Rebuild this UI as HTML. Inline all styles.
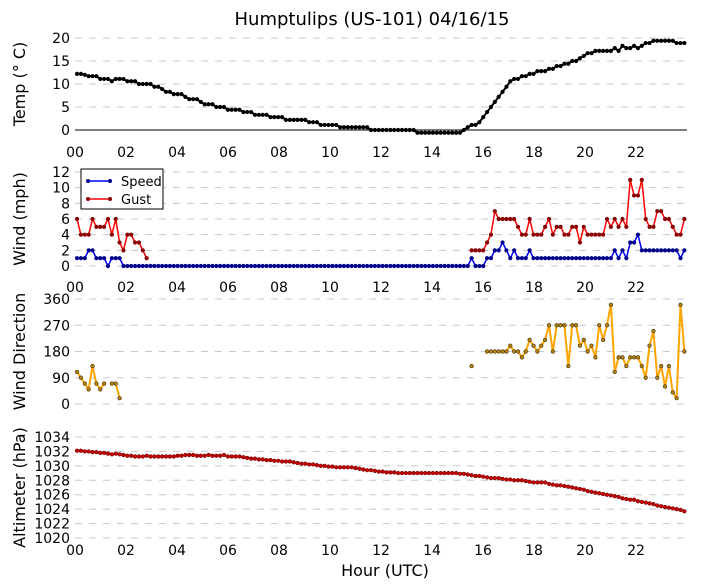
<!DOCTYPE html>
<html><head><meta charset="utf-8"><style>
body{margin:0;background:#fff}
svg{display:block;font-family:"DejaVu Sans","Liberation Sans",sans-serif}
</style></head><body>
<svg id="c" width="705" height="588" xmlns="http://www.w3.org/2000/svg"></svg>
<script>
const xTickLabels=["00","02","04","06","08","10","12","14","16","18","20","22"];
const tempTicks=[0,5,10,15,20];
const windTicks=[0,2,4,6,8,10,12];
const dirTicks=[0,90,180,270,360];
const altTicks=[1020,1022,1024,1026,1028,1030,1032,1034];
const tempValues=[12.2,12.2,12,11.7,11.7,11.7,11.1, 11.1,11.1,10.6,11.1,11.1,11.1, 10.6,10.6,10.6,10,10,10,10, 9.4,9.4,8.9,8.3,8.3,7.8, 7.8,7.8,7.2,6.7,6.7,6.7,6.1, 5.6,5.6,5.6,5,5,5, 4.4,4.4,4.4,4.4,3.9,3.9,3.9, 3.3,3.3,3.3,3.3,2.8,2.8,2.8, 2.8,2.2,2.2,2.2,2.2,2.2, 2.2,1.7,1.7,1.7,1.1,1.1,1.1, 1.1,1.1,0.6,0.6,0.6,0.6,0.6, 0.6,0.6,0.6,0,0,0, 0,0,0,0,0,0,0, 0,0,-0.6,-0.6,-0.6,-0.6, -0.6,-0.6,-0.6,-0.6,-0.6,-0.6,-0.6, -0.6,0,0.6,1.1,1.1,1.7,2.8, 3.9,5,6.1,7.2,8.3,9.4, 10.6,11.1,11.1,11.7,11.7,12.2,12.2, 12.8,12.8,12.8,13.3,13.3,13.9,13.9, 14.4,14.4,15,15,15.6,16.1, 16.7,16.7,17.2,17.2,17.2,17.2,17.2, 17.8,17.2,18.3,17.8,17.8,18.3, 17.8,18.3,18.9,18.9,19.4,19.4,19.4, 19.4,19.4,19.4,18.9,18.9,18.9];
const speedEarly=[1,1,1,2,2,1,1,1,0,1,1,1];
const speedLate=[0,0,0,1,0,0,0,1,1,2,2,3,2,1,2,1,1,1,2,1, 1,1,1,1,1,1,1,1,1,1,1,1,1,1,1,1,1,1,1,1, 2,1,2,1,3,3,4, 2,2,2,2,2,2,2,2,2,2, 1,2];
const gustEarly=[6,4,4,4,6,5,5,5,6,4,6,3,2,4,4,3,3,2,1];
const gustLate=[2,2,2,2,3,4,7,6,6,6,6,6,5,4,4,6,4,4,4,5,6,4,5,5,4,4,5,5,3,5,4,4,4,4,4,6,5,6,5,6,5,11,9,9,11,6,5,5,7,7,6,6,5,4,4,6];
const dirEarly=[110,90,70,50,130,70,50,70,null,70,70,20];
const dirLone=130;
const dirLate=[180,180,180,180,180,180,200,180,180,160,180,220,200,180,200,220,270,180,270,270,270,130,270,270,200,220,180,200,160,270,220,270,340,110,160,160,130,160,160,160,130,90,200,250,90,130,60,130,40,20,340,180];
const altValues=[1032.1,1032.1,1032.0,1032.0,1031.9,1031.9,1031.8, 1031.8,1031.7,1031.6,1031.7,1031.6,1031.5, 1031.4,1031.4,1031.3,1031.3,1031.3,1031.4,1031.3, 1031.3,1031.3,1031.3,1031.3,1031.3,1031.3, 1031.4,1031.4,1031.5,1031.5,1031.5,1031.4,1031.4, 1031.4,1031.5,1031.4,1031.4,1031.4,1031.5, 1031.3,1031.3,1031.3,1031.3,1031.2,1031.1,1031.0, 1031.0,1030.9,1030.9,1030.8,1030.8,1030.7,1030.7, 1030.6,1030.6,1030.6,1030.5,1030.4,1030.3, 1030.3,1030.2,1030.2,1030.1,1030.0,1030.0,1029.9, 1029.9,1029.8,1029.8,1029.8,1029.8,1029.8,1029.7, 1029.6,1029.5,1029.4,1029.4,1029.3,1029.2, 1029.2,1029.1,1029.1,1029.1,1029.0,1029.0,1029.0, 1029.0,1029.0,1029.0,1029.0,1029.0,1029.0, 1029.0,1029.0,1029.0,1029.0,1029.0,1029.0,1029.0, 1028.9,1028.9,1028.8,1028.7,1028.6,1028.6,1028.5, 1028.4,1028.3,1028.3,1028.3,1028.2,1028.1, 1028.1,1028.0,1028.0,1028.0,1027.9,1027.8,1027.7, 1027.7,1027.7,1027.7,1027.5,1027.4,1027.3,1027.3, 1027.2,1027.1,1027.0,1026.9,1026.8,1026.7, 1026.5,1026.4,1026.3,1026.2,1026.1,1026.0,1025.9, 1025.8,1025.7,1025.5,1025.4,1025.3,1025.3, 1025.1,1025.0,1024.9,1024.8,1024.7,1024.5,1024.4, 1024.3,1024.2,1024.1,1024.0,1023.9,1023.7];
const T0=0.08, STEP=0.1517, LATE=99, LONE=102, DIRLATE=106;

const NS="http://www.w3.org/2000/svg";
const svg=document.getElementById('c');
const X0=75,PX=25.5;
function xs(h){return X0+h*PX;}
function tAt(i){return T0+i*STEP;}
function el(tag,at,parent){const e=document.createElementNS(NS,tag);for(const k in at)e.setAttribute(k,at[k]);(parent||svg).appendChild(e);return e;}
function txt(s,at){const e=el('text',at);e.textContent=s;return e;}
const panels=[
 {name:'temp',y0:130,y1:38,v0:0,v1:20,ticks:tempTicks,label:'Temp (° C)',xlab:152},
 {name:'wind',y0:266,y1:172,v0:0,v1:12,ticks:windTicks,label:'Wind (mph)',xlab:287},
 {name:'dir',y0:404,y1:299,v0:0,v1:360,ticks:dirTicks,label:'Wind Direction',xlab:null},
 {name:'alt',y0:538,y1:437,v0:1020,v1:1034,ticks:altTicks,label:'Altimeter (hPa)',xlab:550}];
function ys(p,v){return p.y0+(v-p.v0)/(p.v1-p.v0)*(p.y1-p.y0);}
txt('Humptulips (US-101) 04/16/15',{x:372,y:25,'font-size':18,'text-anchor':'middle',});
panels.forEach(p=>{
 const g=el('g',{});
 
 
 p.ticks.forEach(t=>{
  const y=ys(p,t);
  const l=el('line',{x1:X0,x2:687,y1:y,y2:y,stroke:'#c8c8c8','stroke-width':1,'stroke-dasharray':'7,7'},g);
  
  
  const tl=el('text',{x:70,y:y+5,'font-size':14,'text-anchor':'end'},g);
  tl.textContent=t;
  
  
 });
 const yl=el('text',{transform:`translate(25,${(p.y0+p.y1)/2}) rotate(-90)`,'font-size':16,'text-anchor':'middle'},g);
 yl.textContent=p.label;
 
 
 if(p.xlab){xTickLabels.forEach((s,k)=>{
  const t=el('text',{x:xs(k*2),y:p.xlab+5,'font-size':14,'text-anchor':'middle'},g);
  t.textContent=s;
  
  
 });}
});
el('line',{x1:X0,x2:687,y1:130,y2:130,stroke:'#000','stroke-width':1,});
txt('Hour (UTC)',{x:385,y:576,'font-size':16,'text-anchor':'middle',});

function series(p,vals,start,color,lw,mfill,mstroke,name){
 const g=el('g',{});
 
 
 let segs=[],cur=[];
 vals.forEach((v,k)=>{if(v===null){if(cur.length)segs.push(cur);cur=[];}else cur.push([xs(tAt(start+k)),ys(p,v)]);});
 if(cur.length)segs.push(cur);
 segs.forEach(s=>{el('polyline',{points:s.map(q=>q.join(',')).join(' '),fill:'none',stroke:color,'stroke-width':lw,'stroke-linejoin':'round'},g);
  s.forEach(q=>{const c=el('circle',{cx:q[0],cy:q[1],r:1.8,fill:mfill,stroke:mstroke,'stroke-width':0.6},g);
   
   });});
}
const [PT,PW,PD,PA]=panels;
series(PT,tempValues,0,'#000',2,'#000','#000','temp-line');
const speedZeros=[];for(let i=speedEarly.length;i<LATE;i++)speedZeros.push(0);
series(PW,speedEarly.concat(speedZeros).concat(speedLate),0,'#0000ff',1.5,'#00008b','#00008b','speed-line');
series(PW,gustEarly,0,'#ff0000',1.5,'#8b0000','#8b0000','gust-line');
series(PW,gustLate,LONE,'#ff0000',1.5,'#8b0000','#8b0000','gust-line-late');
series(PD,dirEarly,0,'#ffa500',2,'#b8860b','#3a2a00','direction-line');
series(PD,[dirLone],LONE,'#ffa500',2,'#b8860b','#3a2a00','direction-point-lone');
series(PD,dirLate,DIRLATE,'#ffa500',2,'#b8860b','#3a2a00','direction-line-late');
series(PA,altValues,0,'#d00000',1.5,'#cc0000','#700000','altimeter-line');

const lg=el('g',{});


el('rect',{x:81,y:169,width:82,height:40,fill:'#fff',stroke:'#000','stroke-width':1},lg);
[['Speed','#0000ff','#00008b',181],['Gust','#ff0000','#8b0000',199]].forEach(e=>{
 const it=el('g',{},lg);
 
 
 el('line',{x1:88,x2:110,y1:e[3],y2:e[3],stroke:e[1],'stroke-width':1.5},it);
 el('circle',{cx:88,cy:e[3],r:2,fill:e[2]},it);el('circle',{cx:110,cy:e[3],r:2,fill:e[2]},it);
 const t=el('text',{x:121,y:e[3]+5,'font-size':13},it);t.textContent=e[0];
});
</script>
</body></html>
